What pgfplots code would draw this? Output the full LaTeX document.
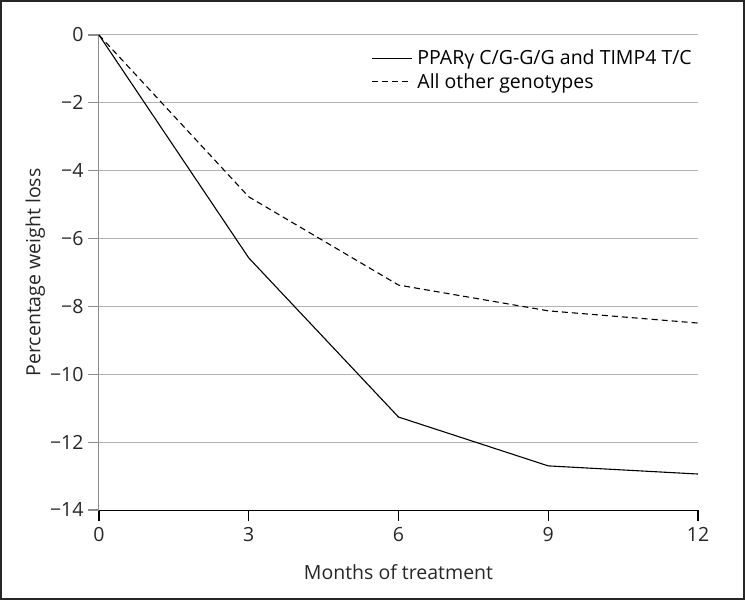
\documentclass[border=0pt]{standalone}
\usepackage{pgfplots}
\pgfplotsset{compat=1.18}
\usepackage{fontspec}
\setmainfont{Open Sans}
\begin{document}
\begin{tikzpicture}[x=1pt,y=1pt]
\begin{axis}[
  scale only axis,
  width=599pt, height=475pt,
  xmin=0, xmax=12, ymin=-14, ymax=0,
  xtick={0,3,6,9,12},
  ytick={-14,-12,-10,-8,-6,-4,-2,0},
  yticklabels={−14,−12,−10,−8,−6,−4,−2,0},
  xticklabels={0,3,6,9,12},
  axis x line*=bottom,
  axis y line*=left,
  x axis line style={black, line width=1pt, -},
  y axis line style={gray!90, line width=1pt, -},
  xtick pos=bottom, ytick pos=left,
  tick align=outside,
  major tick length=11pt,
  every tick/.style={},
  xtick style={draw=black, line width=1.2pt},
  ytick style={draw=gray!90, line width=1.2pt},
  ymajorgrids,
  grid style={gray!60, line width=1pt},
  tick label style={font=\fontsize{19.5}{22}\selectfont, text=black!85},
  xticklabel style={yshift=-3pt},
  yticklabel style={xshift=-1pt},
  label style={font=\fontsize{19.5}{22}\selectfont, text=black!85},
  xlabel={Months of treatment},
  ylabel={Percentage weight loss},
  xlabel style={yshift=-16pt},
  ylabel style={yshift=-2pt},
  legend style={draw=none, fill=none, at={(1,0.975)}, anchor=north east, font=\fontsize{19.5}{22}\selectfont, row sep=3pt, inner sep=1pt,
    nodes={inner xsep=5pt}},
  legend cell align=left,
  legend image code/.code={\draw[#1] (0pt,0pt) -- (40pt,0pt);},
  clip=false,
]
\addplot[black, line width=1.1pt] coordinates {(0,0) (3,-6.57) (6,-11.26) (9,-12.7) (12,-12.94)};
\addlegendentry{PPARγ C/G-G/G and TIMP4 T/C}
\addplot[black, line width=1.1pt, dash pattern=on 6pt off 4pt] coordinates {(0,0) (3,-4.77) (6,-7.37) (9,-8.13) (12,-8.49)};
\addlegendentry{All other genotypes}
\coordinate (sw) at (rel axis cs:0,0);
\coordinate (ne) at (rel axis cs:1,1);
\end{axis}
\draw[black!85, line width=2pt] ([shift={(-98pt,-89pt)}]sw) rectangle ([shift={(46pt,34pt)}]ne);
\end{tikzpicture}
\end{document}
